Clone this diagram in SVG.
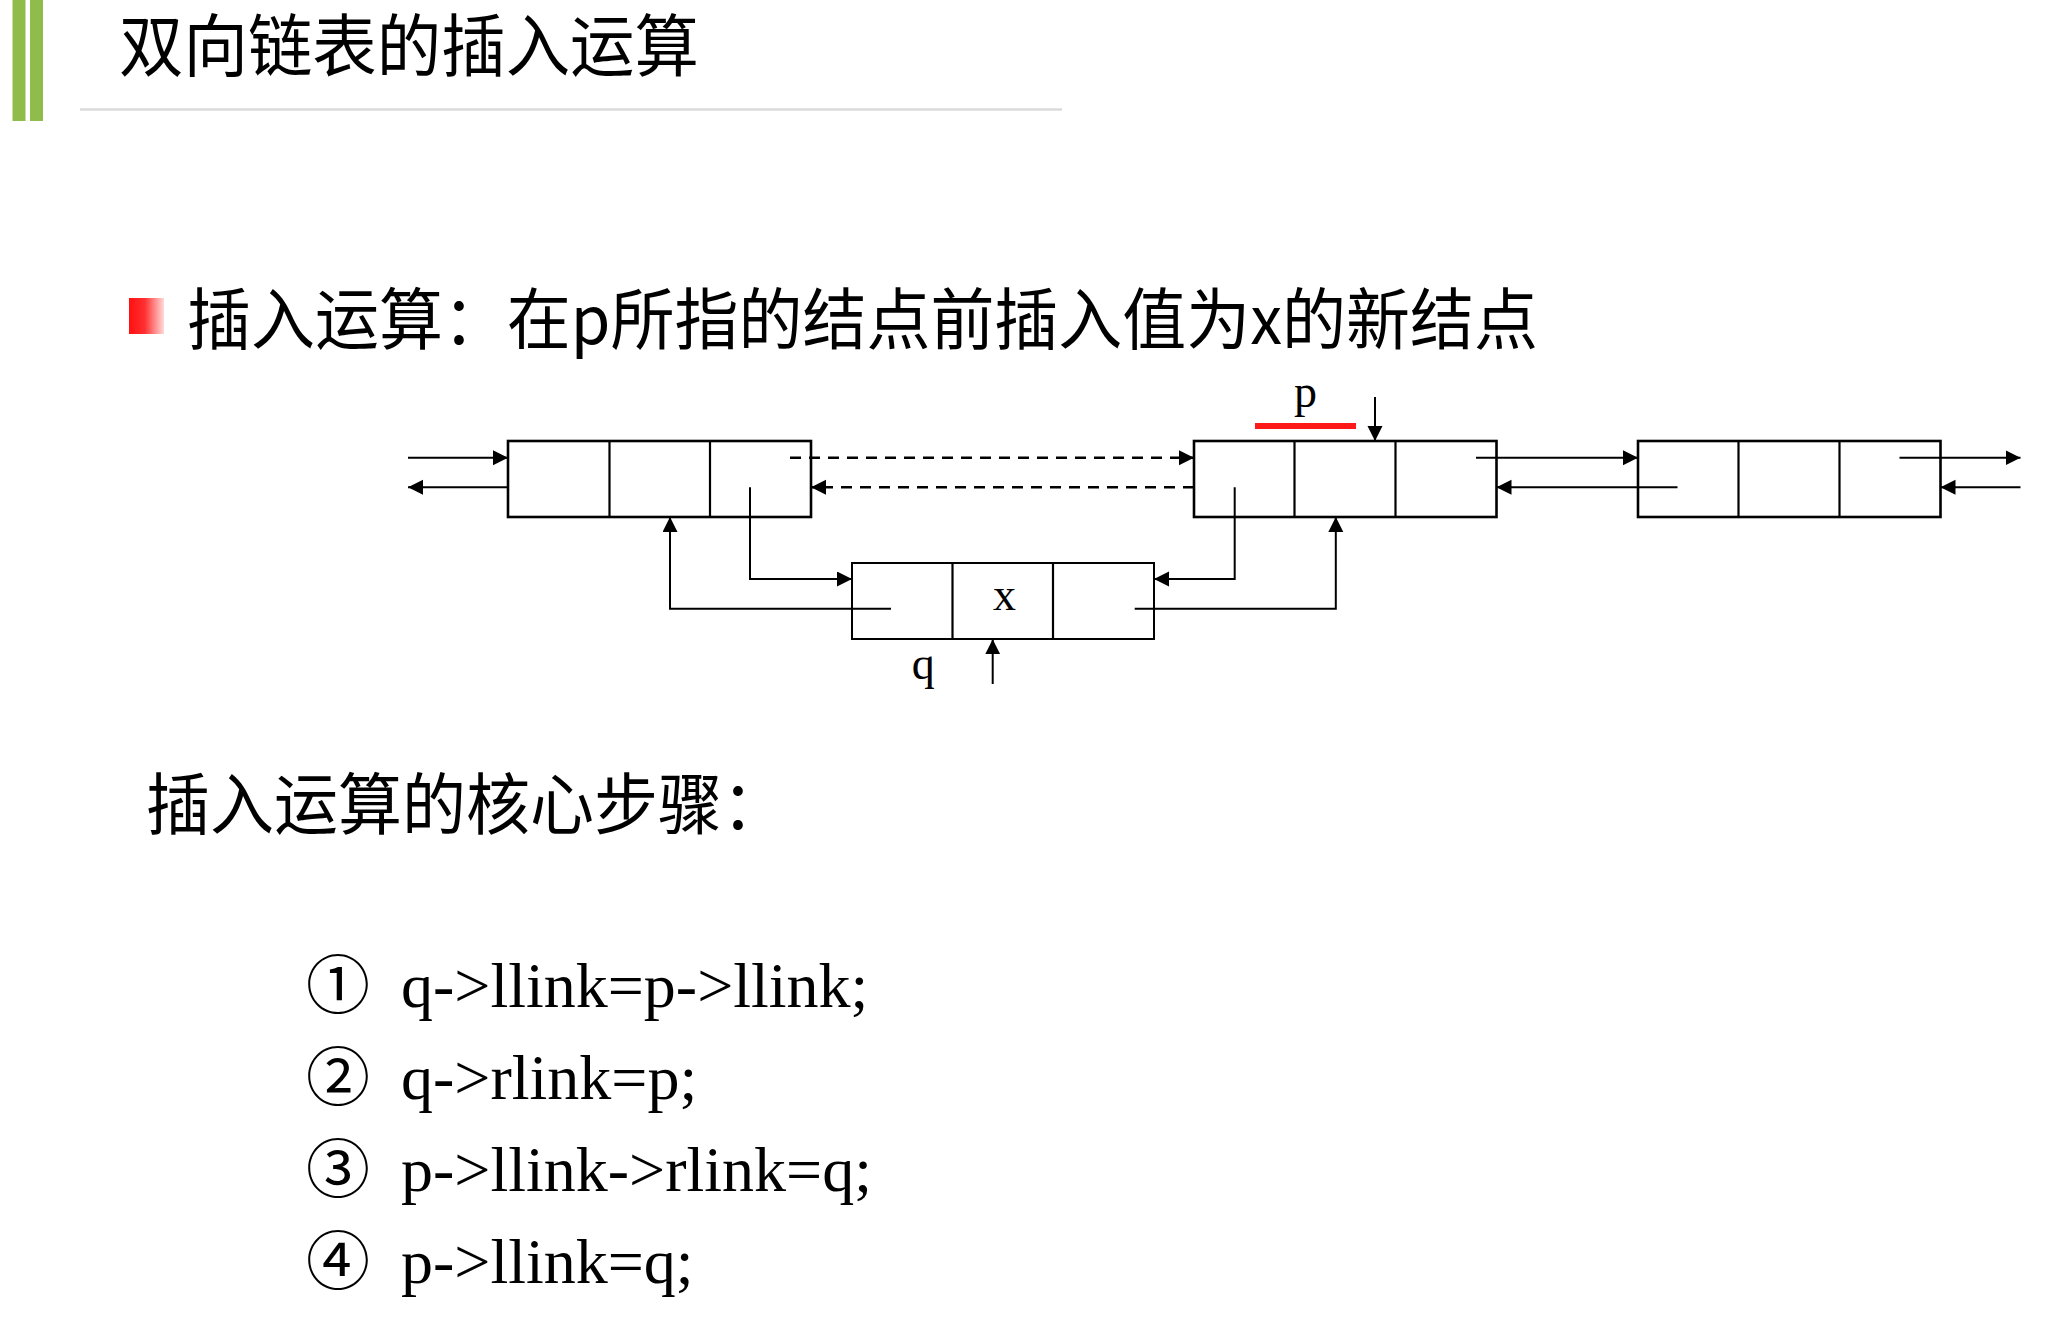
<svg xmlns="http://www.w3.org/2000/svg" width="2066" height="1325" viewBox="0 0 2066 1325">
<defs>
<style>
.cjk{font-family:"Noto Sans CJK SC","Noto Sans",sans-serif;fill:#000}
.ser{font-family:"Liberation Serif","Times New Roman",serif;fill:#000}
.box{fill:#fff;stroke:#000;stroke-width:2.6}
.qbox{fill:#fff;stroke:#000;stroke-width:2}
.div{stroke:#000;stroke-width:2.2;fill:none}
.ln{stroke:#000;stroke-width:2;fill:none}
.dash{stroke:#000;stroke-width:2.4;fill:none;stroke-dasharray:11 8}
</style>
<marker id="ah" markerUnits="userSpaceOnUse" markerWidth="16" markerHeight="16" refX="15" refY="7.5" orient="auto" viewBox="0 0 16 16">
<path d="M0,0 L15,7.5 L0,15 z" fill="#000"/>
</marker>
<linearGradient id="bul" x1="0" y1="0" x2="1" y2="0">
<stop offset="0" stop-color="#ff1010"/>
<stop offset="0.45" stop-color="#ff3030"/>
<stop offset="1" stop-color="#ffdada"/>
</linearGradient>
</defs>
<rect width="2066" height="1325" fill="#fff"/>
<g id="header">
<rect x="12.5" y="0" width="13" height="121" fill="#8fbc4a"/>
<rect x="30" y="0" width="13" height="121" fill="#8fbc4a"/>
<rect x="80" y="108.3" width="982" height="2.4" fill="#dadada"/>
<text class="cjk" x="119" y="71" font-size="68" textLength="580" lengthAdjust="spacingAndGlyphs">双向链表的插入运算</text>
</g>
<g id="subtitle">
<rect x="129" y="298" width="35" height="36" fill="url(#bul)"/>
<text class="cjk" x="187" y="344" font-size="67" textLength="1351" lengthAdjust="spacingAndGlyphs">插入运算：在p所指的结点前插入值为x的新结点</text>
</g>
<g id="node1">
<rect class="box" x="508" y="441" width="303" height="76"/>
<path class="div" d="M609.5,441V517M710,441V517"/>
</g>
<g id="node2">
<rect class="box" x="1194" y="441" width="302.5" height="76"/>
<path class="div" d="M1294.5,441V517M1395.5,441V517"/>
</g>
<g id="node3">
<rect class="box" x="1638" y="441" width="302.5" height="76"/>
<path class="div" d="M1738.5,441V517M1839.5,441V517"/>
</g>
<g id="nodeq">
<rect class="qbox" x="852" y="563" width="302" height="76"/>
<path class="div" d="M952.5,563V639M1053,563V639"/>
<text class="ser" x="1004.5" y="610" font-size="46" text-anchor="middle">x</text>
</g>
<g id="labels">
<text class="ser" x="1305.5" y="407" font-size="46" text-anchor="middle">p</text>
<rect x="1255" y="423" width="101" height="6" fill="#ff1a1a"/>
<text class="ser" x="923.3" y="679" font-size="46" text-anchor="middle">q</text>
</g>
<g id="connectors">
<path class="ln" d="M408,457.7H508" marker-end="url(#ah)"/>
<path class="ln" d="M508,487.3H408" marker-end="url(#ah)"/>
<path class="dash" d="M790,457.7H1194" marker-end="url(#ah)"/>
<path class="dash" d="M1194,487.3H811" marker-end="url(#ah)"/>
<path class="ln" d="M750,487.3V579H852" marker-end="url(#ah)"/>
<path class="ln" d="M891,608.7H670V517" marker-end="url(#ah)"/>
<path class="ln" d="M1234.7,487.3V579H1154" marker-end="url(#ah)"/>
<path class="ln" d="M1134.7,608.7H1335.8V517" marker-end="url(#ah)"/>
<path class="ln" d="M1476,457.7H1638" marker-end="url(#ah)"/>
<path class="ln" d="M1677.5,487.3H1496.5" marker-end="url(#ah)"/>
<path class="ln" d="M1899.5,457.7H2020.5" marker-end="url(#ah)"/>
<path class="ln" d="M2020.5,487.3H1940.5" marker-end="url(#ah)"/>
<path class="ln" d="M1375,397V441" marker-end="url(#ah)"/>
<path class="ln" d="M992.7,684V639.3" marker-end="url(#ah)"/>
</g>
<g id="steps">
<text class="cjk" x="146" y="829" font-size="67" textLength="640" lengthAdjust="spacingAndGlyphs">插入运算的核心步骤：</text>
<text class="cjk" x="306" y="1008" font-size="64">①</text>
<text class="ser" x="401" y="1007" font-size="64">q-&gt;llink=p-&gt;llink;</text>
<text class="cjk" x="306" y="1100" font-size="64">②</text>
<text class="ser" x="401" y="1099" font-size="64">q-&gt;rlink=p;</text>
<text class="cjk" x="306" y="1192" font-size="64">③</text>
<text class="ser" x="401" y="1191" font-size="64">p-&gt;llink-&gt;rlink=q;</text>
<text class="cjk" x="306" y="1284" font-size="64">④</text>
<text class="ser" x="401" y="1283" font-size="64">p-&gt;llink=q;</text>
</g>
</svg>
